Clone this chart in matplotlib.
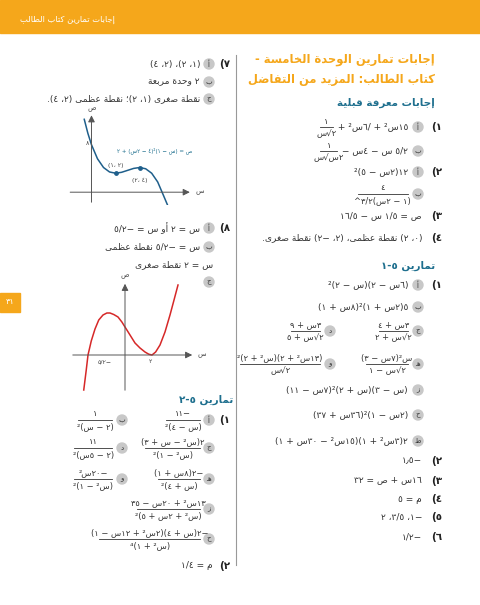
import matplotlib
matplotlib.use("Agg")
import matplotlib.pyplot as plt
from matplotlib.patches import Rectangle, Circle

plt.rcParams['font.family'] = ['DejaVu Sans']

# ---- tiny arabic shaper (matplotlib has no text shaping) ----
F = {
    'ء': (0xFE80,), 'آ': (0xFE81, 0xFE82), 'أ': (0xFE83, 0xFE84), 'ؤ': (0xFE85, 0xFE86),
    'إ': (0xFE87, 0xFE88), 'ئ': (0xFE89, 0xFE8A, 0xFE8B, 0xFE8C), 'ا': (0xFE8D, 0xFE8E),
    'ب': (0xFE8F,), 'ة': (0xFE93, 0xFE94), 'ت': (0xFE95,), 'ث': (0xFE99,), 'ج': (0xFE9D,),
    'ح': (0xFEA1,), 'خ': (0xFEA5,), 'د': (0xFEA9, 0xFEAA), 'ذ': (0xFEAB, 0xFEAC),
    'ر': (0xFEAD, 0xFEAE), 'ز': (0xFEAF, 0xFEB0), 'س': (0xFEB1,), 'ش': (0xFEB5,),
    'ص': (0xFEB9,), 'ض': (0xFEBD,), 'ط': (0xFEC1,), 'ظ': (0xFEC5,), 'ع': (0xFEC9,),
    'غ': (0xFECD,), 'ف': (0xFED1,), 'ق': (0xFED5,), 'ك': (0xFED9,), 'ل': (0xFEDD,),
    'م': (0xFEE1,), 'ن': (0xFEE5,), 'ه': (0xFEE9,), 'و': (0xFEED, 0xFEEE),
    'ى': (0xFEEF, 0xFEF0), 'ي': (0xFEF1,),
}
FORMS = {}
for k, v in F.items():
    if len(v) == 1 and k != 'ء':
        b = v[0]
        FORMS[k] = [chr(b), chr(b + 1), chr(b + 2), chr(b + 3)]
    else:
        FORMS[k] = [chr(c) for c in v]
LAMALEF = {'ا': (0xFEFB, 0xFEFC), 'أ': (0xFEF7, 0xFEF8), 'إ': (0xFEF9, 0xFEFA), 'آ': (0xFEF5, 0xFEF6)}
DIGITS = set('٠١٢٣٤٥٦٧٨٩0123456789٫./^')


def dual(c):
    return c in FORMS and len(FORMS[c]) == 4 or c == 'ـ'


def shape(s):
    out = []
    i = 0
    n = len(s)
    while i < n:
        c = s[i]
        prev = s[i - 1] if i > 0 else ''
        pj = dual(prev)
        if c == 'ل' and i + 1 < n and s[i + 1] in LAMALEF:
            out.append(chr(LAMALEF[s[i + 1]][1 if pj else 0]))
            i += 2
            continue
        if c in FORMS:
            f = FORMS[c]
            nxt = s[i + 1] if i + 1 < n else ''
            nj = len(f) == 4 and (nxt in FORMS or nxt == 'ـ')
            if len(f) == 1:
                out.append(f[0])
            elif len(f) == 2:
                out.append(f[1] if pj else f[0])
            else:
                out.append(f[3] if pj and nj else f[1] if pj else f[2] if nj else f[0])
        else:
            out.append(c)
        i += 1
    # visual order
    rev = out[::-1]
    res, run = [], []
    for ch in rev:
        if ch in DIGITS:
            run.append(ch)
        else:
            if run:
                res.extend(run[::-1]); run = []
            res.append({'(': ')', ')': '('}.get(ch, ch))
    res.extend(run[::-1])
    return ''.join(res)


# ---- page text data ----
title_lines = ["إجابات تمارين الوحدة الخامسة -", "كتاب الطالب: المزيد من التفاضل"]
header_text = "إجابات تمارين كتاب الطالب"
sections = [(103, 435, "إجابات معرفة قبلية"), (266, 435, "تمارين ٥-١"), (400, 233, "تمارين ٥-٢")]

# (y, number, circle letter, text) ; text is a string or (numerator, denominator)
right_items = [
    (127, "١)", "أ", ("١", "٢√س")),
    (151, "", "ب", ("١", "٢س√س")),
    (172, "٢)", "أ", "١٢(٢س − ٥)²"),
    (194, "", "ب", ("٤", "(١ − ٢س)^٣/٢")),
    (216, "٣)", "", "ص = ١/٥ س − ١٦/٥"),
    (238, "٤)", "", "(٠، ٢) نقطة عظمى، (٢، −٢) نقطة صغرى."),
    (285, "١)", "أ", "(٦س − ٢)(س − ٢)²"),
    (307, "", "ب", "٥(٢س + ١)²(٨س + ١)"),
    (331, "", "ج", ("٣س + ٤", "٢√س + ٢")),
    (364, "", "هـ", ("س²(٧س − ٣)", "٢√س − ١")),
    (390, "", "ز", "(س − ٣)(س + ٢)²(٧س − ١١)"),
    (415, "", "ح", "(٢س − ١)²(٣٦س + ٣٧)"),
    (441, "", "ط", "٢(٣س² + ١)(١٥س² − ٣٠س + ١)"),
    (461, "٢)", "", "−١٫٥"),
    (481, "٣)", "", "١٦س + ص = ٣٢"),
    (499, "٤)", "", "م = ٥"),
    (517, "٥)", "", "−١، ٣/٥، ٢"),
    (537, "٦)", "", "−١/٢"),
]
right_prefix = {127: "١٥س² + ٦/س² + ", 151: "٥/٢ س − ٤س − "}
right_second = [
    (331, "د", ("٣س + ٩", "٢√س + ٥")),
    (364, "و", ("(١٣س² + ٢)(س² + ٢)²", "٢√س")),
]
left_items = [
    (64, "٧)", "أ", "(١، ٢)، (٢، ٤)"),
    (82, "", "ب", "٢ وحدة مربعة"),
    (99, "", "ج", "نقطة صغرى (١، ٢)؛ نقطة عظمى (٢، ٤)."),
    (228, "٨)", "أ", "س = ٢ أو س = −٥/٢"),
    (247, "", "ب", "س = −٥/٢ نقطة عظمى"),
    (265, "", "", "س = ٢ نقطة صغرى"),
    (282, "", "ج", ""),
    (420, "١)", "أ", ("−١١", "(س − ٤)²")),
    (448, "", "ج", ("٢(س² − س + ٣)", "(س² − ١)²")),
    (479, "", "هـ", ("−٢(٨س + ١)", "(س + ٤)²")),
    (509, "", "ز", ("١٣س² + ٢٠س − ٣٥", "(س² + ٢س + ٥)²")),
    (539, "", "ح", ("−٢(س + ٤)(٢س² + ١٢س − ١)", "(س² + ١)⁴")),
    (566, "٢)", "", "م = ١/٤"),
]
left_second = [
    (420, "ب", ("١", "(٢ − س)²")),
    (448, "د", ("١١", "(٢ − ٥س)²")),
    (479, "و", ("−٢٠س²", "(س² − ١)²")),
]

# curve 1 : ص = (س − ١)²(٤ − ٢س) + ٢ (picture units)
c1_x = [-0.3, -0.15, 0, 0.25, 0.5, 0.75, 1, 1.25, 1.5, 1.75, 2, 2.25, 2.5, 2.75, 3, 3.15]
c1_y = [15.36, 12.41, 10, 7.04, 5.2, 4.26, 4, 4.19, 4.6, 5.01, 5.2, 4.94, 4.0, 2.16, -0.8, -2.6]
c1_pts_x = [1, 2]
c1_pts_y = [4, 5.2]
# curve 2 (picture units)
c2_x = [-3.3, -3.1, -2.96, -2.7, -2.4, -2.1, -1.76, -1.45, -1.2, -0.9, -0.56, -0.25, 0, 0.4,
        0.8, 1.2, 1.6, 1.9, 2.16, 2.45, 2.8, 3.2, 3.6, 3.9, 4.24]
c2_y = [-35, -15, 0, 14, 26, 35, 40, 42, 42, 40.5, 38, 33, 28, 20, 12, 7, 3, 0.8, 0, 3, 10, 23, 40, 54, 70]

ORANGE = '#F5A71B'
TEAL = '#1E6F8E'
TXT = '#333333'

fig = plt.figure(figsize=(4.8, 6.05), dpi=100)
ax = fig.add_axes([0, 0, 1, 1])
ax.set_xlim(0, 480)
ax.set_ylim(605, 0)
ax.axis('off')

ax.add_patch(Rectangle((0, 0), 480, 33, color=ORANGE))
ax.text(115, 20, shape(header_text), color='white', fontsize=6, ha='right', va='center')
ax.add_patch(Rectangle((0, 293), 20, 19, color=ORANGE))
ax.text(10, 302, "٣١", color='white', fontsize=6, ha='center', va='center')
ax.plot([236, 236], [55, 565], color='#999999', lw=0.8)

for k, t in enumerate(title_lines):
    ax.text(435, 60 + k * 20, shape(t), color=ORANGE, fontsize=8.3, fontweight='bold', ha='right', va='center')
for y, x, t in sections:
    ax.text(x, y, shape(t), color=TEAL, fontsize=7.5, fontweight='bold', ha='right', va='center')


def circ(x, y, letter):
    ax.add_patch(Circle((x, y), 5, color='#C8C8C8'))
    ax.text(x, y, shape(letter), fontsize=5, ha='center', va='center', color=TXT)


def body(xr, y, t, prefix=""):
    if isinstance(t, tuple):
        num, den = t
        x0 = xr
        if prefix:
            p = ax.text(xr, y, shape(prefix), fontsize=6.5, ha='right', va='center', color=TXT)
            bb = p.get_window_extent(renderer=fig.canvas.get_renderer())
            x0 = xr - bb.width - 2
        w = max(len(num), len(den)) * 4.2
        ax.plot([x0 - w, x0], [y, y], color=TXT, lw=0.6)
        ax.text(x0 - w / 2, y - 6, shape(num), fontsize=6, ha='center', va='center', color=TXT)
        ax.text(x0 - w / 2, y + 7, shape(den), fontsize=6, ha='center', va='center', color=TXT)
    elif t:
        ax.text(xr, y, shape(t), fontsize=6.5, ha='right', va='center', color=TXT)


def column(items, xnum, xcirc, xtext, prefixes={}):
    for y, num, let, t in items:
        if num:
            ax.text(xnum, y, shape(num), fontsize=7.5, fontweight='bold', ha='right', va='center', color='#222222')
        if let:
            circ(xcirc, y, let)
        body(xtext if let else xcirc + 4, y, t, prefixes.get(y, ""))


column(right_items, 442, 418, 408, right_prefix)
column(left_items, 230, 209, 200)
for y, let, t in right_second:
    circ(330, y, let)
    body(320, y, t)
for y, let, t in left_second:
    circ(122, y, let)
    body(112, y, t)

# curve 1
a1 = fig.add_axes([65 / 480, 1 - 205 / 605, 130 / 480, 93 / 605])
a1.set_xlim(-1.1, 4.3)
a1.set_ylim(-2.7, 16.9)
a1.axis('off')
a1.annotate('', xy=(4.2, 0), xytext=(-1.0, 0), arrowprops=dict(arrowstyle='-|>', lw=0.7, color='#555555'))
a1.annotate('', xy=(0, 16.8), xytext=(0, -2.7), arrowprops=dict(arrowstyle='-|>', lw=0.7, color='#555555'))
a1.plot(c1_x, c1_y, color='#1F5F8B', lw=1.1)
a1.scatter(c1_pts_x, c1_pts_y, color='#1F5F8B', s=6, zorder=3)
a1.text(1, 5.3, "(١، ٢)", fontsize=4.5, ha='center', color='#444444')
a1.text(2, 3.0, "(٢، ٤)", fontsize=4.5, ha='center', va='top', color='#444444')
a1.text(4.2, 8.5, shape("ص = (س − ١)²(٤ − ٢س) + ٢"), fontsize=4, ha='right', color=TEAL)
a1.text(-0.1, 10, "٨", fontsize=4.5, ha='right', color='#444444')
a1.text(4.3, 0, shape("س"), fontsize=5, va='center', color='#444444')
a1.text(0, 16.9, shape("ص"), fontsize=5, ha='center', va='bottom', color='#444444')

# curve 2
a2 = fig.add_axes([70 / 480, 1 - 393 / 605, 130 / 480, 115 / 605])
a2.set_xlim(-4.4, 6)
a2.set_ylim(-38, 77)
a2.axis('off')
a2.annotate('', xy=(5.6, 0), xytext=(-4.4, 0), arrowprops=dict(arrowstyle='-|>', lw=0.7, color='#555555'))
a2.annotate('', xy=(0, 74), xytext=(0, -38), arrowprops=dict(arrowstyle='-|>', lw=0.7, color='#555555'))
a2.plot(c2_x, c2_y, color='#D62828', lw=1.1)
a2.text(-1.6, -4, shape("−٥/٢"), fontsize=4.5, ha='center', va='top', color='#444444')
a2.text(2.0, -4, "٢", fontsize=4.5, ha='center', va='top', color='#444444')
a2.text(5.8, 0, shape("س"), fontsize=5, va='center', color='#444444')
a2.text(0, 76, shape("ص"), fontsize=5, ha='center', va='bottom', color='#444444')

fig.savefig('out.png', dpi=100)
